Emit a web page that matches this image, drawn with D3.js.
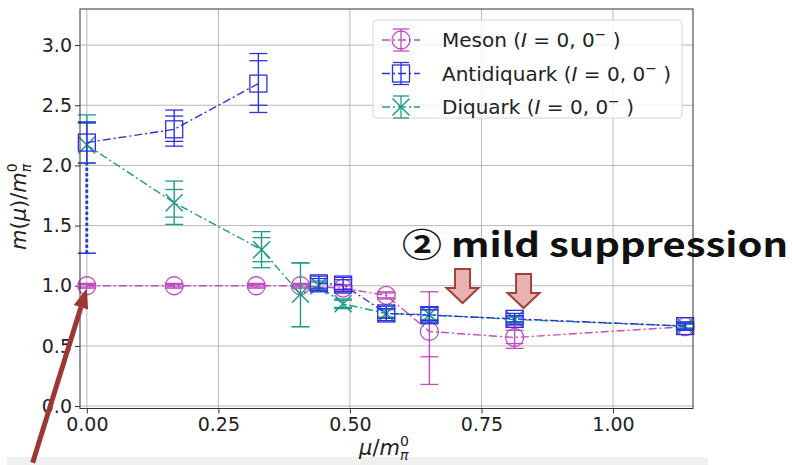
<!DOCTYPE html>
<html>
<head>
<meta charset="utf-8">
<script src="https://cdn.jsdelivr.net/npm/d3@7/dist/d3.min.js"></script>
<style>
  html, body { margin: 0; padding: 0; background: #fff; }
  svg { display: block; }
</style>
</head>
<body>
<svg id="chart" width="792" height="465"></svg>
<script>
// ---- data ----
const xTicks = [0, 0.25, 0.5, 0.75, 1.0];
const yTicks = [0, 0.5, 1.0, 1.5, 2.0, 2.5, 3.0];

// Meson (I = 0, 0^-)
const mesonMu   = [0, 0.166, 0.322, 0.406, 0.487, 0.569, 0.651, 0.813, 1.137];
const mesonM    = [1.00, 1.00, 1.00, 1.00, 0.98, 0.92, 0.62, 0.57, 0.66];
const mesonInner = [[0.99,1.01],[0.99,1.01],[0.99,1.01],[0.99,1.01],[0.96,1.00],[0.90,0.94],[0.41,0.82],[0.52,0.63],[0.64,0.68]];
const mesonOuter = [[0.98,1.02],[0.98,1.02],[0.98,1.02],[0.98,1.02],[0.95,1.01],[0.89,0.95],[0.18,0.95],[0.48,0.67],[0.63,0.69]];

// Antidiquark (I = 0, 0^-)
const antiMu   = [0, 0.166, 0.326, 0.441, 0.487, 0.569, 0.651, 0.813, 1.137];
const antiM    = [2.19, 2.30, 2.68, 1.02, 1.01, 0.77, 0.755, 0.725, 0.665];
const antiInner = [[2.02,2.36],[2.20,2.41],[2.50,2.87],[0.98,1.06],[0.97,1.05],[0.73,0.81],[0.71,0.80],[0.70,0.75],[0.64,0.69]];
const antiOuter = [[1.27,2.36],[2.16,2.46],[2.44,2.93],[0.96,1.08],[0.95,1.07],[0.71,0.83],[0.69,0.82],[0.68,0.77],[0.63,0.70]];
const antiBranch = [0, 0, 0, 1, 1, 1, 1, 1, 1];

// Diquark (I = 0, 0^-)
const diqMu   = [0, 0.166, 0.332, 0.406, 0.441, 0.487, 0.569, 0.651, 0.813, 1.137];
const diqM    = [2.17, 1.69, 1.30, 0.93, 1.00, 0.85, 0.77, 0.76, 0.72, 0.665];
const diqInner = [[2.02,2.35],[1.57,1.80],[1.20,1.40],[0.66,1.19],[0.97,1.03],[0.82,0.88],[0.74,0.80],[0.72,0.80],[0.70,0.74],[0.65,0.68]];
const diqOuter = [[1.27,2.42],[1.51,1.87],[1.15,1.45],[0.66,1.19],[0.96,1.04],[0.81,0.89],[0.73,0.81],[0.70,0.82],[0.69,0.75],[0.64,0.69]];

// annotation anchors (data units)
const suppressionArrows = [[0.714, 0.856], [0.830, 0.815]];
const pointerTip  = [0.0, 0.98];
const pointerTail = [-0.103, -0.47];
const annotationText = "② mild suppression";

// ---- layout ----
const svg = d3.select("#chart");
const W = 792, H = 465;
const plot = { left: 80, right: 693, top: 9, bottom: 408.5 };

const x = d3.scaleLinear().domain([-0.013, 1.152]).range([plot.left, plot.right]);
const y = d3.scaleLinear().domain([-0.02, 3.3]).range([plot.bottom, plot.top]);

const COLORS = { meson: "#c24cc2", anti: "#2f2fe4", diq: "#1e9a8a" };
const FONT = "'DejaVu Sans', sans-serif";

svg.append("rect").attr("width", W).attr("height", H).attr("fill", "#fff");
// faint band along the bottom edge of the slide
svg.append("rect").attr("x", 7).attr("y", 457).attr("width", 701).attr("height", 8).attr("fill", "#f0f0f0");

// grid
const grid = svg.append("g").attr("stroke", "#b8b8b8").attr("stroke-width", 1);
xTicks.forEach(t => grid.append("line")
  .attr("x1", x(t)).attr("x2", x(t)).attr("y1", plot.top).attr("y2", plot.bottom));
yTicks.forEach(t => grid.append("line")
  .attr("x1", plot.left).attr("x2", plot.right).attr("y1", y(t)).attr("y2", y(t)));

// axes
const xAxis = d3.axisBottom(x).tickValues(xTicks).tickFormat(d3.format(".2f")).tickSizeOuter(0).tickSize(5).tickPadding(4);
const yAxis = d3.axisLeft(y).tickValues(yTicks).tickFormat(d3.format(".1f")).tickSizeOuter(0).tickSize(5).tickPadding(3);

const gx = svg.append("g").attr("transform", `translate(0,${plot.bottom})`).call(xAxis);
const gy = svg.append("g").attr("transform", `translate(${plot.left},0)`).call(yAxis);
[gx, gy].forEach(g => {
  g.select(".domain").remove();
  g.selectAll("line").attr("stroke", "#333");
  g.selectAll("text").attr("font-family", FONT).attr("font-size", 19).attr("fill", "#222");
});

// ---- series drawing ----
const CAP = 9;
function drawSeries(mu, m, inner, outer, color, marker, branch) {
  const g = svg.append("g");
  const pts = mu.map((v, i) => ({ x: v, y: m[i], inner: inner[i], outer: outer[i], b: branch ? branch[i] : 0 }));

  // connecting dash-dot line, one path per branch
  const groups = d3.groups(pts, d => d.b);
  const line = d3.line().x(d => x(d.x)).y(d => y(d.y));
  groups.forEach(([, arr]) => {
    g.append("path").attr("d", line(arr)).attr("fill", "none")
      .attr("stroke", color).attr("stroke-width", 1.4).attr("stroke-dasharray", "8,3,2,3");
  });

  // error bars: stem plus two cap levels
  pts.forEach(p => {
    const cx = x(p.x);
    const longTail = (p.inner[0] - p.outer[0]) > 0.3;
    g.append("line").attr("x1", cx).attr("x2", cx)
      .attr("y1", y(p.inner[0])).attr("y2", y(p.outer[1]))
      .attr("stroke", color).attr("stroke-width", 1.4);
    g.append("line").attr("x1", cx).attr("x2", cx)
      .attr("y1", y(p.outer[0])).attr("y2", y(p.inner[0]))
      .attr("stroke", color).attr("stroke-width", longTail ? 2.6 : 1.4)
      .attr("stroke-dasharray", longTail ? "3,2.5" : null);
    [p.inner[0], p.inner[1], p.outer[0], p.outer[1]].forEach(v => {
      g.append("line").attr("x1", cx - CAP).attr("x2", cx + CAP)
        .attr("y1", y(v)).attr("y2", y(v)).attr("stroke", color).attr("stroke-width", 1.3);
    });
  });

  // hollow markers
  pts.forEach(p => drawMarker(g, x(p.x), y(p.y), marker, color));
}

function drawMarker(g, cx, cy, marker, color) {
  if (marker === "circle") {
    g.append("circle").attr("cx", cx).attr("cy", cy).attr("r", 9)
      .attr("fill", "none").attr("stroke", color).attr("stroke-width", 1.3);
  } else if (marker === "square") {
    g.append("rect").attr("x", cx - 8.5).attr("y", cy - 8.5).attr("width", 17).attr("height", 17)
      .attr("fill", "none").attr("stroke", color).attr("stroke-width", 1.3);
  } else {
    const s = 8.5;
    g.append("path").attr("d", `M${cx - s},${cy - s}L${cx + s},${cy + s}M${cx - s},${cy + s}L${cx + s},${cy - s}`)
      .attr("fill", "none").attr("stroke", color).attr("stroke-width", 1.5);
  }
}

drawSeries(mesonMu, mesonM, mesonInner, mesonOuter, COLORS.meson, "circle");
drawSeries(diqMu, diqM, diqInner, diqOuter, COLORS.diq, "x");
drawSeries(antiMu, antiM, antiInner, antiOuter, COLORS.anti, "square", antiBranch);

// spines
svg.append("rect").attr("x", plot.left).attr("y", plot.top)
  .attr("width", plot.right - plot.left).attr("height", plot.bottom - plot.top)
  .attr("fill", "none").attr("stroke", "#333").attr("stroke-width", 1);

// ---- legend ----
const legend = svg.append("g");
legend.append("rect").attr("x", 373).attr("y", 20).attr("width", 309).attr("height", 98).attr("rx", 4)
  .attr("fill", "#fff").attr("fill-opacity", 0.8).attr("stroke", "#d6d6d6");
const entries = [
  { name: "Meson", color: COLORS.meson, marker: "circle" },
  { name: "Antidiquark", color: COLORS.anti, marker: "square" },
  { name: "Diquark", color: COLORS.diq, marker: "x" }
];
entries.forEach((e, i) => {
  const cy = 40 + i * 33.5;
  const hx = 401;
  legend.append("line").attr("x1", 382).attr("x2", 420).attr("y1", cy).attr("y2", cy)
    .attr("stroke", e.color).attr("stroke-width", 1.4).attr("stroke-dasharray", "8,3,2,3");
  legend.append("line").attr("x1", hx).attr("x2", hx).attr("y1", cy - 11).attr("y2", cy + 11)
    .attr("stroke", e.color).attr("stroke-width", 1.3);
  [cy - 11, cy + 11].forEach(v => legend.append("line").attr("x1", hx - 8).attr("x2", hx + 8)
    .attr("y1", v).attr("y2", v).attr("stroke", e.color).attr("stroke-width", 1.3));
  drawMarker(legend, hx, cy, e.marker, e.color);

  const t = legend.append("text").attr("x", 442).attr("y", cy + 7)
    .attr("font-family", FONT).attr("font-size", 20).attr("fill", "#222");
  t.append("tspan").text(e.name + " (");
  t.append("tspan").attr("font-style", "italic").text("I");
  t.append("tspan").text(" = 0, 0");
  t.append("tspan").attr("dy", -8).attr("font-size", 14).text("−");
  t.append("tspan").attr("dy", 8).text(" )");
});

// ---- axis labels ----
const xl = svg.append("text").attr("x", 359).attr("y", 455)
  .attr("font-family", FONT).attr("font-size", 21).attr("fill", "#222");
xl.append("tspan").attr("font-style", "italic").text("μ");
xl.append("tspan").text("/");
xl.append("tspan").attr("font-style", "italic").text("m");
xl.append("tspan").attr("dy", -9).attr("font-size", 14).text("0");
xl.append("tspan").attr("dx", -8.9).attr("dy", 14).attr("font-size", 14).attr("font-style", "italic").text("π");

const yl = svg.append("text").attr("transform", "translate(26,250) rotate(-90)")
  .attr("font-family", FONT).attr("font-size", 21).attr("fill", "#222");
yl.append("tspan").attr("font-style", "italic").text("m");
yl.append("tspan").text("(");
yl.append("tspan").attr("font-style", "italic").text("μ");
yl.append("tspan").text(")/");
yl.append("tspan").attr("font-style", "italic").text("m");
yl.append("tspan").attr("dy", -9).attr("font-size", 14).text("0");
yl.append("tspan").attr("dx", -8.9).attr("dy", 14).attr("font-size", 14).attr("font-style", "italic").text("π");

// ---- annotations ----
svg.append("text").attr("x", 402).attr("y", 257)
  .attr("font-family", "'Noto Sans CJK JP', 'Liberation Sans', sans-serif")
  .attr("font-weight", "bold").attr("font-size", 33).attr("fill", "#111")
  .attr("textLength", 386).attr("lengthAdjust", "spacingAndGlyphs")
  .text(annotationText);

// block arrows pointing down at the suppressed points
suppressionArrows.forEach(([ax, ay]) => {
  const tx = x(ax), ty = y(ay);
  const sw = 7.5, hw = 16, hh = 15, sh = 19;
  const d = `M${tx - sw},${ty - hh - sh}L${tx + sw},${ty - hh - sh}L${tx + sw},${ty - hh}` +
            `L${tx + hw},${ty - hh}L${tx},${ty}L${tx - hw},${ty - hh}L${tx - sw},${ty - hh}Z`;
  svg.append("path").attr("d", d).attr("fill", "#e8b2b0")
    .attr("stroke", "#a2413b").attr("stroke-width", 2).attr("stroke-linejoin", "miter");
});

// long pointer arrow toward the mu = 0 meson point
(function () {
  const x1 = x(pointerTail[0]), y1 = y(pointerTail[1]);
  const x2 = x(pointerTip[0]), y2 = y(pointerTip[1]);
  const ang = Math.atan2(y2 - y1, x2 - x1);
  const L = 20, hw = 7.5;
  const bx = x2 - L * Math.cos(ang), by = y2 - L * Math.sin(ang);
  const nx = -Math.sin(ang), ny = Math.cos(ang);
  svg.append("line").attr("x1", x1).attr("y1", y1).attr("x2", bx).attr("y2", by)
    .attr("stroke", "#9e3732").attr("stroke-width", 5);
  svg.append("path")
    .attr("d", `M${x2},${y2}L${bx + nx * hw},${by + ny * hw}L${bx - nx * hw},${by - ny * hw}Z`)
    .attr("fill", "#9e3732");
})();
</script>
</body>
</html>
